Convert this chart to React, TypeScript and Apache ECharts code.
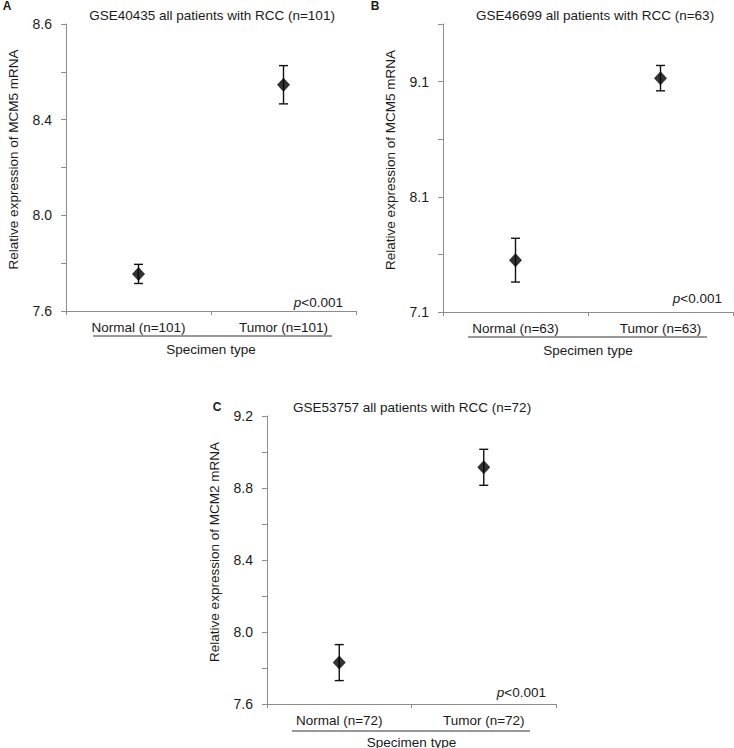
import React, { useEffect, useRef } from "react";
import * as echarts from "echarts";

// ---------- data ----------
const categoriesA = ["Normal (n=101)", "Tumor (n=101)"];
const meanA = [7.755, 8.546];
const errA = [0.04, 0.08];

const categoriesB = ["Normal (n=63)", "Tumor (n=63)"];
const meanB = [7.55, 9.13];
const errB = [0.19, 0.11];

const categoriesC = ["Normal (n=72)", "Tumor (n=72)"];
const meanC = [7.83, 8.915];
const errC = [0.1, 0.1];

// y-axis ticks and labels
const ticksA = [7.6, 7.8, 8.0, 8.2, 8.4, 8.6, 8.8];
const labelValuesA = [7.6, 8.0, 8.4, 8.8];
const tickLabelsA = ["7.6", "8.0", "8.4", "8.6"];

const ticksB = [7.1, 7.6, 8.1, 8.6, 9.1, 9.6];
const labelValuesB = [7.1, 8.1, 9.1];
const tickLabelsB = ["7.1", "8.1", "9.1"];

const ticksC = [7.6, 7.8, 8.0, 8.2, 8.4, 8.6, 8.8, 9.0, 9.2];
const labelValuesC = [7.6, 8.0, 8.4, 8.8, 9.2];
const tickLabelsC = ["7.6", "8.0", "8.4", "8.8", "9.2"];

const titles = [
  "GSE40435 all patients with RCC (n=101)",
  "GSE46699 all patients with RCC (n=63)",
  "GSE53757 all patients with RCC (n=72)",
];
const yNames = [
  "Relative expression of MCM5 mRNA",
  "Relative expression of MCM5 mRNA",
  "Relative expression of MCM2 mRNA",
];
const xName = "Specimen type";
const pText = "<0.001";

const FONT = "'Liberation Sans', Arial, Helvetica, sans-serif";
const TEXT = "#1a1a1a";
const AXIS = "#8c8c8c";

function labelFormatter(values: number[], texts: string[]) {
  return (v: number) => {
    const i = values.findIndex((x) => Math.abs(x - v) < 1e-6);
    return i >= 0 ? texts[i] : "";
  };
}

function makeYAxis(idx: number, min: number, max: number, ticks: number[], lv: number[], lt: string[]) {
  return {
    type: "value",
    gridIndex: idx,
    min,
    max,
    name: yNames[idx],
    nameLocation: "middle",
    nameGap: 46,
    nameTextStyle: { fontFamily: FONT, fontSize: 13.5, color: TEXT, padding: [0, 0, 0, 16] },
    axisLine: { show: true, lineStyle: { color: AXIS, width: 1 } },
    axisTick: { show: true, length: 5, lineStyle: { color: AXIS }, customValues: ticks },
    axisLabel: {
      show: true,
      margin: 14,
      fontFamily: FONT,
      fontSize: 14,
      color: TEXT,
      customValues: lv,
      formatter: labelFormatter(lv, lt),
    },
    splitLine: { show: false },
  };
}

function makeXAxis(idx: number, cats: string[]) {
  return {
    type: "category",
    gridIndex: idx,
    data: cats,
    boundaryGap: true,
    name: xName,
    nameLocation: "middle",
    nameGap: 31,
    nameTextStyle: { fontFamily: FONT, fontSize: 13.5, color: TEXT },
    axisLine: { show: true, lineStyle: { color: AXIS, width: 1 } },
    axisTick: { show: true, length: 4, alignWithLabel: false, lineStyle: { color: AXIS } },
    axisLabel: { margin: 9, fontFamily: FONT, fontSize: 13.5, color: TEXT, interval: 0 },
    splitLine: { show: false },
  };
}

function errorSeries(idx: number, mean: number[], err: number[]) {
  return {
    type: "custom",
    xAxisIndex: idx,
    yAxisIndex: idx,
    z: 2,
    data: mean.map((m, i) => [i, m - err[i], m + err[i]]),
    encode: { x: 0, y: [1, 2] },
    renderItem: (params: any, api: any) => {
      const x = api.value(0);
      const lo = api.coord([x, api.value(1)]);
      const hi = api.coord([x, api.value(2)]);
      const hw = 4.5;
      const style = { stroke: "#111", lineWidth: 1.4 };
      return {
        type: "group",
        children: [
          { type: "line", shape: { x1: lo[0], y1: lo[1], x2: hi[0], y2: hi[1] }, style },
          { type: "line", shape: { x1: lo[0] - hw, y1: lo[1], x2: lo[0] + hw, y2: lo[1] }, style },
          { type: "line", shape: { x1: hi[0] - hw, y1: hi[1], x2: hi[0] + hw, y2: hi[1] }, style },
        ],
      };
    },
  };
}

function meanSeries(idx: number, mean: number[]) {
  return {
    type: "scatter",
    xAxisIndex: idx,
    yAxisIndex: idx,
    z: 3,
    symbol: "diamond",
    symbolSize: [13, 14],
    itemStyle: { color: "#000" },
    data: mean,
  };
}

function pLabel(x: number, y: number) {
  return {
    type: "text",
    x,
    y,
    style: {
      text: "{i|p}" + pText,
      align: "right",
      verticalAlign: "middle",
      fontFamily: FONT,
      fontSize: 13.5,
      fill: TEXT,
      rich: { i: { fontStyle: "italic", fontFamily: FONT, fontSize: 13.5, fill: TEXT } },
    },
  };
}

function centerText(text: string, x: number, y: number, size = 13.5, weight = "normal") {
  return {
    type: "text",
    x,
    y,
    style: {
      text,
      align: "center",
      verticalAlign: "middle",
      fontFamily: FONT,
      fontSize: size,
      fontWeight: weight,
      fill: TEXT,
    },
  };
}

function underline(x1: number, x2: number, y: number) {
  return {
    type: "line",
    shape: { x1, y1: y, x2, y2: y },
    style: { stroke: "#333", lineWidth: 1 },
  };
}

export default function App() {
  const ref = useRef<HTMLDivElement>(null);
  useEffect(() => {
    if (!ref.current) return;
    const chart = echarts.init(ref.current, null, { renderer: "svg" });
    chart.setOption({
      animation: false,
      backgroundColor: "#fff",
      grid: [
        { left: 66, top: 24, width: 290, height: 287, outerBoundsMode: "none", containLabel: false },
        { left: 443, top: 24, width: 290, height: 288, outerBoundsMode: "none", containLabel: false },
        { left: 267, top: 416, width: 289, height: 288, outerBoundsMode: "none", containLabel: false },
      ],
      xAxis: [makeXAxis(0, categoriesA), makeXAxis(1, categoriesB), makeXAxis(2, categoriesC)],
      yAxis: [
        makeYAxis(0, 7.6, 8.8, ticksA, labelValuesA, tickLabelsA),
        makeYAxis(1, 7.1, 9.6, ticksB, labelValuesB, tickLabelsB),
        makeYAxis(2, 7.6, 9.2, ticksC, labelValuesC, tickLabelsC),
      ],
      series: [
        errorSeries(0, meanA, errA),
        meanSeries(0, meanA),
        errorSeries(1, meanB, errB),
        meanSeries(1, meanB),
        errorSeries(2, meanC, errC),
        meanSeries(2, meanC),
      ],
      graphic: [
        centerText("A", 7, 6, 12, "bold"),
        centerText("B", 375, 6, 12, "bold"),
        centerText("C", 217, 407, 12, "bold"),
        centerText(titles[0], 212, 15),
        centerText(titles[1], 595, 15),
        centerText(titles[2], 412, 407),
        pLabel(343, 302),
        pLabel(722, 298),
        pLabel(546, 692),
        underline(93, 332, 336),
        underline(468, 707, 337),
        underline(292, 530, 731),
      ],
    });
    return () => chart.dispose();
  }, []);
  return (
    <div
      ref={ref}
      style={{ position: "absolute", left: 0, top: 0, width: 734, height: 748, background: "#fff" }}
    />
  );
}
